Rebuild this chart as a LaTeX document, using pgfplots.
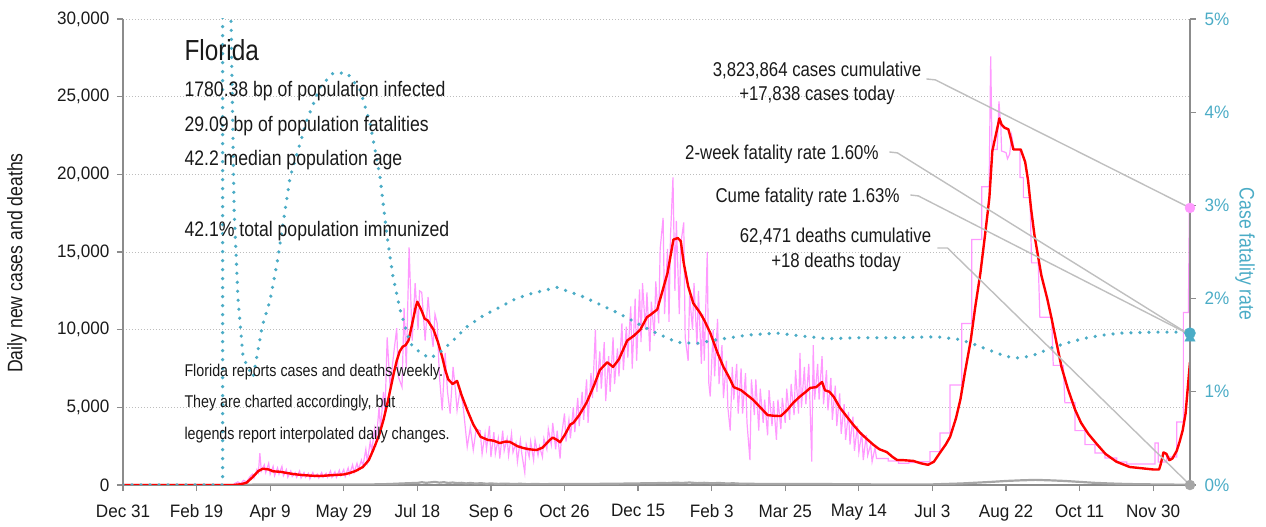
\documentclass[border=0pt]{standalone}
\usepackage{pgfplots}
\pgfplotsset{compat=1.18}
\usepackage{fontspec}
\setmainfont{Liberation Sans}[FakeStretch=0.84]
\newfontfamily\tickfont{Liberation Sans}[FakeStretch=0.95]

\definecolor{casepink}{HTML}{FF99FF}
\definecolor{avgred}{HTML}{FF0000}
\definecolor{cfrteal}{HTML}{4BACC6}
\definecolor{axisgray}{HTML}{8C8C8C}
\definecolor{gridgray}{HTML}{BDBDBD}
\definecolor{deathgray}{HTML}{A6A6A6}
\definecolor{leadgray}{HTML}{BFBFBF}
\definecolor{ink}{HTML}{1A1A1A}

\newcommand{\fsz}[1]{\fontsize{#1bp}{#1bp}\selectfont}

\pgfplotsset{
  base/.style={
    scale only axis, width=1067bp, height=466bp,
    at={(0,0)}, anchor=south west,
    xmin=0, xmax=725,
    tick align=outside, major tick length=6bp,
    axis line style={draw=axisgray, line width=1.3bp, -},
    tick style={draw=axisgray, line width=1.2bp},
    tick label style={font=\tickfont\fsz{18}, text=ink},
    /pgf/number format/assume math mode=true,
  }
}

\begin{document}
\begin{tikzpicture}
% cases (left axis)
\begin{axis}[base,
  ymin=0, ymax=30000,
  axis x line*=bottom, axis y line*=left,
  xtick={0,50,...,700},
  xticklabels={Dec 31,Feb 19,Apr 9,May 29,Jul 18,Sep 6,Oct 26,Dec 15,Feb 3,Mar 25,May 14,Jul 3,Aug 22,Oct 11,Nov 30},
  xticklabel style={yshift=-10bp},
  ytick={0,5000,...,30000}, scaled y ticks=false,
  yticklabel style={/pgf/number format/1000 sep={,}, xshift=-4bp},
  ymajorgrids, grid style={gridgray, line width=0.9bp, dash pattern=on 1bp off 2bp}]
% daily deaths
\addplot[deathgray, line width=2.2bp] coordinates {
(0,0)(70,0)(80,10)(90,30)(100,40)(110,40)(120,40)(130,40)(140,35)(150,30)(160,30)(170,40)(180,60)(185,80)(190,100)(195,120)(200,130)(203,180)(206,140)(209,170)(212,200)(215,150)(218,180)(221,130)(224,160)(227,120)(230,140)(233,100)(236,130)(240,90)(243,120)(247,80)(250,100)(255,70)(260,90)(265,60)(270,80)(275,50)(280,70)(285,50)(290,60)(300,60)(310,60)(320,70)(330,80)(340,90)(350,100)(355,120)(360,110)(365,130)(370,120)(375,150)(380,130)(385,160)(390,120)(395,140)(400,110)(405,130)(410,100)(415,110)(420,80)(425,90)(430,70)(440,70)(450,60)(460,60)(470,70)(480,60)(490,50)(500,50)(510,40)(520,40)(530,30)(540,30)(550,40)(560,70)(570,100)(580,150)(590,200)(600,260)(610,300)(620,330)(630,300)(640,260)(650,200)(660,140)(670,100)(680,70)(690,50)(700,40)(710,30)(720,20)(725,18)};
% daily cases
\addplot[casepink, line width=1.2bp] coordinates {
(0,0)(75,0)(76,100)(78,200)(80,100)(82,300)(84,200)(86,500)(88,700)(89,450)(91,1000)(92,800)(93,2050)(94,900)(96,1300)(97,800)(99,1400)(100,700)(102,1200)(103,600)(105,1100)(106,700)(108,1200)(109,600)(111,1000)(112,500)(114,900)(115,550)(117,800)(118,500)(120,900)(121,450)(123,800)(124,500)(126,750)(127,400)(129,800)(130,500)(132,700)(133,450)(135,800)(136,500)(138,750)(139,500)(141,900)(142,500)(144,850)(145,500)(147,950)(148,600)(150,1000)(151,550)(153,1100)(154,700)(156,1300)(157,800)(159,1400)(160,1000)(162,1600)(163,1200)(165,2300)(166,1500)(168,2800)(169,2200)(171,3600)(172,2800)(174,5000)(175,3600)(177,6000)(178,4500)(179.5,9500)(181.5,6300)(184,8500)(186,10100)(187,7000)(189.6,6300)(191,11400)(192.5,7500)(194.4,15300)(196.5,9300)(198.5,13000)(200.5,10000)(201.5,12500)(203,12400)(205.3,9300)(207.3,12100)(209,10200)(210.7,8900)(212,11000)(213.5,10400)(215,7000)(216.9,4800)(218.9,8500)(220.5,6000)(222.3,4600)(224.3,7600)(226,6000)(227,4800)(229,6100)(231,5200)(233.9,2450)(236,3700)(238,2250)(240,3600)(242.7,3500)(244,2000)(246,3300)(247,2300)(249,3800)(250,1800)(252,3400)(253,2000)(255,3000)(256,1700)(258,3500)(259,2200)(261,3000)(262,1900)(264,3300)(265,2100)(267,2700)(268,1500)(270,2900)(271,2000)(273,800)(274,2600)(276,1800)(277,2800)(279,1600)(280,2900)(282,1900)(283,2500)(285,1800)(286,3000)(288,2300)(289,3600)(291,2600)(292,4000)(294,2300)(295,3500)(297,1700)(298,3200)(300,4600)(301,2800)(303,4200)(304,3000)(306,5000)(307,3400)(309,5600)(310,3800)(312,6000)(313,4200)(315,6800)(316,4000)(318,7200)(319,5600)(321,10000)(322,6000)(324,8600)(325,6200)(327,9200)(328,5400)(330,8300)(331,6000)(333,9500)(334,6500)(336,8800)(337,7000)(339,10400)(340,7400)(342,10200)(343,8200)(345,11500)(346,7500)(348,12000)(349,8000)(351,12600)(352,9200)(353,13000)(355,10000)(356,12400)(358,8600)(359,11800)(361,9600)(362,13100)(364,10400)(365,15200)(367,17200)(368,11000)(370,15200)(371,10500)(372,16000)(373.7,19800)(375,12500)(376,17000)(378,11000)(379,15500)(381,16900)(382,9500)(384,8000)(385,12200)(387,10000)(388,13000)(390,9000)(391,12500)(393,7800)(394,11000)(395,8000)(397,15000)(398,6600)(399,5700)(401,10000)(402,7000)(404,10700)(405,6500)(407,9000)(408,5600)(410,8000)(411,5000)(412.6,3500)(414,7600)(415,5500)(417,7800)(418,4600)(420,7500)(421,4600)(423,7200)(424,4000)(426,1600)(427,6800)(429,4500)(430,6800)(432,3500)(433,6200)(435,4000)(436,5500)(438,3200)(439,6100)(441,3800)(442,5400)(444,2900)(445,5500)(447,3600)(448,5600)(450,4000)(451,6200)(453,4200)(454,6500)(456,4500)(457,7400)(459,4600)(460,8500)(461,5000)(463,7600)(464,5200)(466,7800)(467,4600)(468,1500)(469,9000)(470,5500)(472,7800)(473,5500)(475,8300)(476,5200)(478,7400)(479,4800)(481,6900)(482,4200)(484,6400)(485,3800)(487,5900)(488,3300)(490,5200)(491,2900)(493,4700)(494,2600)(496,4400)(497,2200)(499,3800)(500,2100)(502,3400)(503,1600)(505,3200)(506,1900)(508,2600)(509,1500)(511,2400)(512,1700)
(520,1700)(520,1550)(527,1550)(527,1400)(534,1400)(534,1450)(541.6,1450)(541.6,1500)(548.3,1500)(548.3,2150)(555.1,2150)(555.1,3350)(561.9,3350)(561.9,6440)(569.9,6440)(569.9,10400)(576.7,10400)(576.7,15800)(583.5,15800)(583.5,19200)(588.5,19200)(589.6,27600)(590.5,21600)(594,21600)(595.2,24700)(596.5,23000)(597,21500)(600,21400)(601,21000)(602.5,21300)(603.8,22500)(605.5,21600)(609.5,21600)(609.5,19800)(611.8,19800)(611.8,18500)(616.3,18500)(617.4,14300)(621.9,14300)(623,10800)(631,10800)(632.1,7700)(638.9,7700)(640,5300)(646.9,5300)(646.9,3500)(653.7,3500)(653.7,2600)(660.5,2600)(660.5,2060)(667.3,2060)(667.3,1740)(675.2,1740)(675.2,1480)(682,1480)(682,1350)(701.2,1350)(701.2,2700)(703.5,2700)(703.5,1480)(709.2,1480)(709.2,1800)(716,1800)(716,4060)(720.5,4060)(720.5,11100)(723.9,11100)(724.6,17838)(725,17838)};
% 7-day average
\addplot[avgred, line width=2.4bp, line join=round] coordinates {
(0,0)(75,0)(80,50)(84,150)(88,500)(92,900)(95,1050)(99,1000)(102,880)(107,850)(111,780)(116,700)(122,640)(128,600)(134,580)(140,620)(145,650)(150,680)(154,770)(158,900)(163,1160)(167,1600)(170,2250)(174,3200)(177,4190)(180,5400)(182,6300)(184,7200)(186,8000)(188,8600)(190,8900)(192,9000)(194,9300)(197,10600)(199,11500)(200,11800)(201,11600)(203,11200)(205,10700)(207,10600)(209,10300)(211,10000)(214,9200)(217,8200)(219,7400)(221,6800)(224,6500)(227,6700)(230,5800)(234,4800)(238,3900)(243,3100)(248,2900)(252,2850)(256,2700)(260,2800)(263,2770)(268,2500)(272,2380)(276,2300)(281,2250)(285,2400)(290,2900)(292,3050)(295,2900)(297,2750)(300,3200)(304,3900)(306,4000)(310,4500)(315,5300)(320,6400)(324,7400)(329,7900)(333,7600)(337,8100)(342.6,9300)(347,9600)(351.5,10000)(356,10800)(359,11000)(363,11300)(366,12300)(370,13650)(374,15800)(377,15900)(379,15700)(381,14300)(384,12800)(387.5,11700)(392,11100)(395,10600)(399,9800)(404,8500)(408,7600)(412,6900)(415,6300)(420,6100)(424,5800)(428,5500)(433,5000)(438,4500)(443,4450)(447,4440)(451,4800)(455.5,5300)(460,5700)(464,6000)(467,6250)(471,6300)(475,6630)(477,6100)(480,6000)(483,5670)(487,5000)(492,4380)(496,3900)(501,3350)(505,3000)(510,2580)(514,2300)(519,2120)(523,1800)(526,1610)(530,1600)(537,1550)(542,1400)(547,1300)(551,1500)(555,2060)(559,2600)(562,3100)(566,4300)(569,5500)(572,7200)(576,9300)(579,11400)(582.6,13650)(586,16300)(588.7,18500)(590.7,21500)(593,22500)(595.5,23600)(597,23200)(599,23000)(601.6,22900)(603,22400)(605,21600)(610,21600)(613,20800)(615,19600)(617,17800)(619.3,16100)(622,14600)(624,13500)(628,12000)(631,10700)(634,9300)(637.7,7600)(642,6200)(647,4830)(651,4000)(656,3280)(662,2600)(667.6,2000)(675,1500)(684,1160)(692,1080)(700,1000)(704,1000)(705,1300)(707,2100)(709,2000)(711,1600)(713,1700)(716,2200)(718,2800)(720,3500)(722,4600)(723,5700)(724,6800)(725,7900)};
\end{axis}

% case fatality rate (right axis)
\begin{axis}[base,
  ymin=0, ymax=5,
  axis y line*=right, axis x line=none,
  ytick={0,1,...,5},
  yticklabel={\pgfmathprintnumber{\tick}\%},
  yticklabel style={text=cfrteal, xshift=5bp}]
\addplot[cfrteal, line width=3.6bp, line cap=round, dash pattern=on 0bp off 9bp] coordinates {
(0,0)(67.7,0)(67.8,40)(71,12)(73.4,5.0)(75.5,2.95)(78.2,1.98)(81.6,1.37)(85,1.26)(88.4,1.16)(91.8,1.45)(94.5,1.70)(99.9,1.98)(104.7,2.38)(113.5,3.30)(125.1,3.92)(133.9,4.27)(142.8,4.42)(152.3,4.42)(161.1,4.24)(167.9,3.88)(174.7,3.30)(179.5,2.66)(183.5,2.23)(188.3,1.88)(195.1,1.52)(201.9,1.42)(208.7,1.36)(215,1.42)(222.3,1.52)(233.9,1.70)(245,1.82)(256.3,1.91)(267,2.0)(278.7,2.06)(295,2.12)(312.7,2.02)(335.8,1.85)(358.3,1.66)(376.6,1.53)(390.2,1.52)(403.8,1.56)(425,1.61)(444.6,1.63)(460,1.60)(478.6,1.57)(500,1.58)(523.5,1.58)(553.4,1.59)(569,1.56)(580,1.50)(591.4,1.43)(600,1.38)(609.8,1.36)(620,1.40)(632.2,1.48)(645,1.54)(655.3,1.58)(667,1.61)(677.8,1.63)(700.2,1.64)(725,1.64)};
\end{axis}

% end markers and leader lines
\begin{axis}[base, hide axis, ymin=0, ymax=30000, clip=false]
\draw[leadgray, line width=1.4bp] (axis cs:545.9,26140) -- (axis cs:552,26080) -- (axis cs:725,17838);
\draw[leadgray, line width=1.4bp] (axis cs:520.7,21440) -- (axis cs:526.2,21380) -- (axis cs:724,9720);
\draw[leadgray, line width=1.4bp] (axis cs:535,18670) -- (axis cs:540.4,18610) -- (axis cs:724,9720);
\draw[leadgray, line width=1.4bp] (axis cs:553.4,15260) -- (axis cs:560.2,15260) -- (axis cs:725,0);
\addplot[only marks, mark=*, mark size=5bp, casepink] coordinates {(725,17838)};
\addplot[only marks, mark=triangle*, mark size=6bp, cfrteal] coordinates {(725,9450)};
\addplot[only marks, mark=*, mark size=5.5bp, cfrteal] coordinates {(725,9780)};
\addplot[only marks, mark=*, mark size=5bp, deathgray] coordinates {(725,0)};
\end{axis}

% texts
\begin{scope}[text=ink]
\node[anchor=base west, font=\fsz{29}] at (58bp,424bp) {Florida};
\node[anchor=base west, font=\fsz{21}] at (58bp,388.3bp) {1780.38 bp of population infected};
\node[anchor=base west, font=\fsz{21}] at (58bp,353.3bp) {29.09 bp of population fatalities};
\node[anchor=base west, font=\fsz{21}] at (58bp,319bp) {42.2 median population age};
\node[anchor=base west, font=\fsz{21}] at (58bp,248.3bp) {42.1\% total population immunized};
\node[anchor=base west, font=\fsz{17}] at (58bp,108.3bp) {Florida reports cases and deaths weekly.};
\node[anchor=base west, font=\fsz{17}] at (58bp,77bp) {They are charted accordingly, but};
\node[anchor=base west, font=\fsz{17}] at (58bp,45bp) {legends report interpolated daily changes.};
\node[anchor=base, font=\fsz{20}] at (694bp,408bp) {3,823,864 cases cumulative};
\node[anchor=base, font=\fsz{20}] at (694bp,384bp) {+17,838 cases today};
\node[anchor=base east, font=\fsz{20}] at (759bp,325bp) {2-week fatality rate 1.60\%};
\node[anchor=base east, font=\fsz{20}] at (780bp,282bp) {Cume fatality rate 1.63\%};
\node[anchor=base, font=\fsz{20}] at (712.5bp,242bp) {62,471 deaths cumulative};
\node[anchor=base, font=\fsz{20}] at (713bp,217bp) {+18 deaths today};
\node[rotate=90, font=\fsz{21}] at (-106bp,222bp) {Daily new cases and deaths};
\node[rotate=-90, font=\fsz{21}, text=cfrteal] at (1122bp,231bp) {Case fatality rate};
\end{scope}

\pgfresetboundingbox
\useasboundingbox (-123bp,-42bp) rectangle (1143bp,485bp);
\end{tikzpicture}
\end{document}
